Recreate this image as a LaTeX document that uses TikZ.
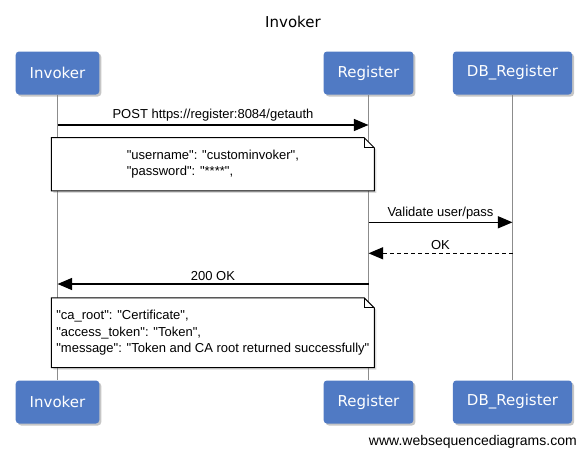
\documentclass[tikz,border=0pt]{standalone}
\usepackage{fontspec}
\setmainfont{Liberation Sans}[Ligatures=TeXOff]
\newfontfamily\boxfont{DejaVu Sans}
\usepackage{tikz}
\usetikzlibrary{positioning,arrows.meta,shadows,backgrounds}
\definecolor{actorblue}{RGB}{80,122,196}

\begin{document}
\begin{tikzpicture}[x=0.75pt, y=-0.75pt, on grid, node distance=233.25pt,
    actor/.style={rectangle, rounded corners=2.5pt, fill=actorblue, text=white,
      font=\boxfont\fontsize{11.25}{13}\selectfont, minimum height=32.25pt, inner xsep=10.5pt,
      drop shadow={shadow xshift=1.5pt, shadow yshift=-1.5pt, opacity=0.45}},
    life/.style={draw=black!45, line width=1.1pt},
    msg/.style={-{Triangle[length=11pt,width=9pt]}, line width=1.2pt},
    reply/.style={msg, dash pattern=on 3pt off 2.25pt},
    lbl/.style={font=\fontsize{9.75}{12}\selectfont, above, inner sep=2pt},
    notetext/.style={font=\fontsize{9.75}{12.4}\selectfont, align=left, inner sep=0pt, minimum width=241.7pt},
    memo/.style={fill=white, draw=black, line width=0.75pt,
      drop shadow={shadow xshift=1.5pt, shadow yshift=-1.5pt, opacity=0.3}}]
    \useasboundingbox (0,0) rectangle (587,457);

    \node[font=\boxfont\fontsize{11.25}{13}\selectfont] (title) at (293,21.5) {Invoker};

    % participants, top and bottom
    \node[actor] (inv) at (57.5,73) {Invoker};
    \node[actor, right=of inv] (reg) {Register};
    \node[actor, right=108pt of reg] (db) {DB\_Register};
    \node[actor, below=246.75pt of inv] (invB) {Invoker};
    \node[actor, below=246.75pt of reg] (regB) {Register};
    \node[actor, below=246.75pt of db] (dbB) {DB\_Register};

    % message rows
    \coordinate (m1) at (0,125);
    \coordinate (m2) at (0,222.3);
    \coordinate (m3) at (0,253.3);
    \coordinate (m4) at (0,284);

    \draw[msg] (inv |- m1) -- node[lbl] {POST https://register:8084/getauth} (reg |- m1);
    \draw[msg] (reg |- m2) -- node[lbl] {Validate user/pass} (db |- m2);
    \draw[reply] (db |- m3) -- node[lbl] {OK} (reg |- m3);
    \draw[msg] (reg |- m4) -- node[lbl] {200 OK} (inv |- m4);

    % notes
    \node[notetext, minimum height=39.4pt] (n1) at (212.85,164.25)
      {"username": "custominvoker",\\"password": "****",};
    \node[notetext, minimum height=52pt] (n2) at (212.85,332.8)
      {"ca\_root": "Certificate",\\"access\_token": "Token",\\"message": "Token and CA root returned successfully"};

    \node[anchor=east, inner sep=0pt, font=\fontsize{10.5}{12}\selectfont] (site) at (577,441.5) {www.websequencediagrams.com};

    \begin{scope}[on background layer]
      \draw[life] (inv.south) -- (invB.north);
      \draw[life] (reg.south) -- (regB.north);
      \draw[life] (db.south) -- (dbB.north);
      \foreach \n in {n1,n2} {
        \draw[memo] (\n.north west) -- ([xshift=-7.5pt]\n.north east) -- ([yshift=-7.5pt]\n.north east)
          -- (\n.south east) -- (\n.south west) -- cycle;
        \draw[line width=0.75pt] ([xshift=-7.5pt]\n.north east) |- ([yshift=-7.5pt]\n.north east);
      }
    \end{scope}
  \end{tikzpicture}
\end{document}
